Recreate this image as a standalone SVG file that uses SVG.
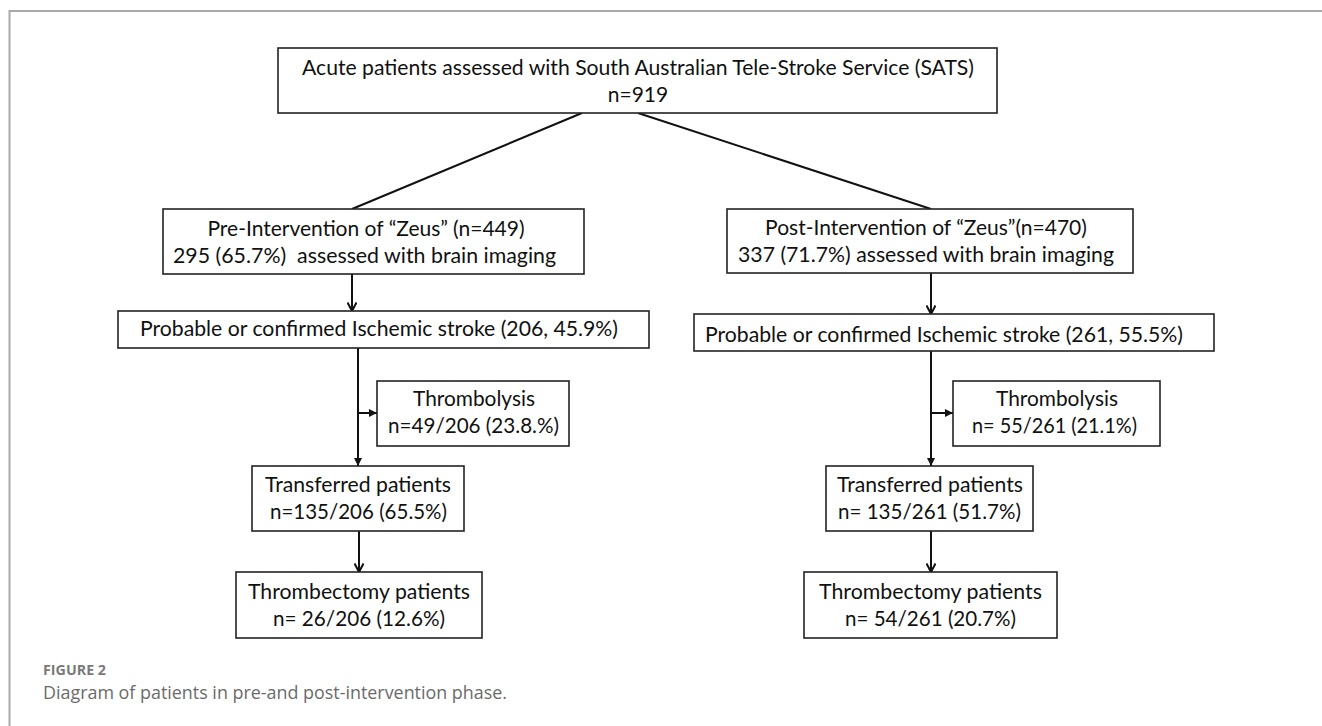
<svg xmlns="http://www.w3.org/2000/svg" width="1322" height="726" viewBox="0 0 1322 726">
<defs>
<style>
.box{fill:#fff;stroke:#222;stroke-width:1.6}
.t{font-family:Lato,"Liberation Sans",sans-serif;font-size:21px;fill:#111;text-anchor:middle}
.c{stroke:#111;stroke-width:2;fill:none}
.cap1{font-family:"Open Sans","Liberation Sans",sans-serif;font-size:14px;font-weight:bold;fill:#7a7a7a}
.cap2{font-family:"Open Sans","Liberation Sans",sans-serif;font-size:18px;fill:#6b6b6b}
</style>
<marker id="chev" viewBox="0 0 12 10" markerUnits="userSpaceOnUse" markerWidth="12" markerHeight="10" refX="10.5" refY="5" orient="auto">
<path d="M2,0.5 L10.5,5 L2,9.5" fill="none" stroke="#111" stroke-width="2"/>
</marker>
<marker id="tri" viewBox="0 0 8 8" markerUnits="userSpaceOnUse" markerWidth="8" markerHeight="8" refX="8" refY="4" orient="auto">
<path d="M0,0 L8,4 L0,8 z" fill="#111"/>
</marker>
</defs>
<rect width="1322" height="726" fill="#fff"/>
<path d="M9.5,726 V11 H1322" fill="none" stroke="#aaa" stroke-width="2"/>

<g id="connectors">
<line class="c" x1="582" y1="113" x2="352" y2="209"/>
<line class="c" x1="638" y1="113" x2="931" y2="209"/>
<line class="c" x1="352" y1="274" x2="352" y2="311" marker-end="url(#chev)"/>
<line class="c" x1="931" y1="273" x2="931" y2="314" marker-end="url(#chev)"/>
<line class="c" x1="358" y1="348" x2="358" y2="466" marker-end="url(#tri)"/>
<line class="c" x1="358" y1="413" x2="377" y2="413" marker-end="url(#tri)"/>
<line class="c" x1="931" y1="351" x2="931" y2="466" marker-end="url(#tri)"/>
<line class="c" x1="931" y1="413" x2="953" y2="413" marker-end="url(#tri)"/>
<line class="c" x1="359" y1="531" x2="359" y2="572" marker-end="url(#chev)"/>
<line class="c" x1="931" y1="531" x2="931" y2="572" marker-end="url(#chev)"/>
</g>

<g id="top">
<rect class="box" x="278" y="48" width="719" height="65"/>
<text class="t" x="638" y="75" textLength="672" lengthAdjust="spacingAndGlyphs">Acute patients assessed with South Australian Tele-Stroke Service (SATS)</text>
<text class="t" x="638" y="102">n=919</text>
</g>

<g id="pre">
<rect class="box" x="163" y="209" width="421" height="65"/>
<text class="t" x="366" y="236">Pre-Intervention of “Zeus” (n=449)</text>
<text class="t" x="364.5" y="263" textLength="383" lengthAdjust="spacingAndGlyphs" xml:space="preserve">295 (65.7%)  assessed with brain imaging</text>
</g>

<g id="post">
<rect class="box" x="727" y="209" width="406" height="64"/>
<text class="t" x="926" y="235">Post-Intervention of “Zeus”(n=470)</text>
<text class="t" x="926" y="262" textLength="376" lengthAdjust="spacingAndGlyphs">337 (71.7%) assessed with brain imaging</text>
</g>

<g id="pre-ischemic">
<rect class="box" x="118" y="311" width="531" height="37"/>
<text class="t" x="379" y="336" textLength="478" lengthAdjust="spacingAndGlyphs">Probable or confirmed Ischemic stroke (206, 45.9%)</text>
</g>

<g id="post-ischemic">
<rect class="box" x="694" y="314" width="520" height="37"/>
<text class="t" x="944" y="342" textLength="478" lengthAdjust="spacingAndGlyphs">Probable or confirmed Ischemic stroke (261, 55.5%)</text>
</g>

<g id="pre-thrombolysis">
<rect class="box" x="377" y="381" width="192" height="65"/>
<text class="t" x="474" y="406" textLength="122" lengthAdjust="spacingAndGlyphs">Thrombolysis</text>
<text class="t" x="473.5" y="433" textLength="171" lengthAdjust="spacingAndGlyphs">n=49/206 (23.8.%)</text>
</g>

<g id="post-thrombolysis">
<rect class="box" x="953" y="381" width="207" height="65"/>
<text class="t" x="1057" y="406" textLength="122" lengthAdjust="spacingAndGlyphs">Thrombolysis</text>
<text class="t" x="1054.5" y="433" textLength="165" lengthAdjust="spacingAndGlyphs">n= 55/261 (21.1%)</text>
</g>

<g id="pre-transferred">
<rect class="box" x="252" y="466" width="212" height="65"/>
<text class="t" x="358" y="492" textLength="186" lengthAdjust="spacingAndGlyphs">Transferred patients</text>
<text class="t" x="358.5" y="519" textLength="177" lengthAdjust="spacingAndGlyphs">n=135/206 (65.5%)</text>
</g>

<g id="post-transferred">
<rect class="box" x="826" y="466" width="207" height="65"/>
<text class="t" x="930" y="492" textLength="186" lengthAdjust="spacingAndGlyphs">Transferred patients</text>
<text class="t" x="929.5" y="519" textLength="183" lengthAdjust="spacingAndGlyphs">n= 135/261 (51.7%)</text>
</g>

<g id="pre-thrombectomy">
<rect class="box" x="236" y="572" width="246" height="66"/>
<text class="t" x="359" y="599" textLength="222" lengthAdjust="spacingAndGlyphs">Thrombectomy patients</text>
<text class="t" x="359" y="626" textLength="172" lengthAdjust="spacingAndGlyphs">n= 26/206 (12.6%)</text>
</g>

<g id="post-thrombectomy">
<rect class="box" x="804" y="572" width="253" height="66"/>
<text class="t" x="930.5" y="599" textLength="223" lengthAdjust="spacingAndGlyphs">Thrombectomy patients</text>
<text class="t" x="930.5" y="626" textLength="171" lengthAdjust="spacingAndGlyphs">n= 54/261 (20.7%)</text>
</g>

<g id="caption">
<text class="cap1" x="43" y="675" textLength="63" lengthAdjust="spacingAndGlyphs">FIGURE 2</text>
<text class="cap2" x="43" y="699" textLength="464" lengthAdjust="spacingAndGlyphs">Diagram of patients in pre-and post-intervention phase.</text>
</g>
</svg>
